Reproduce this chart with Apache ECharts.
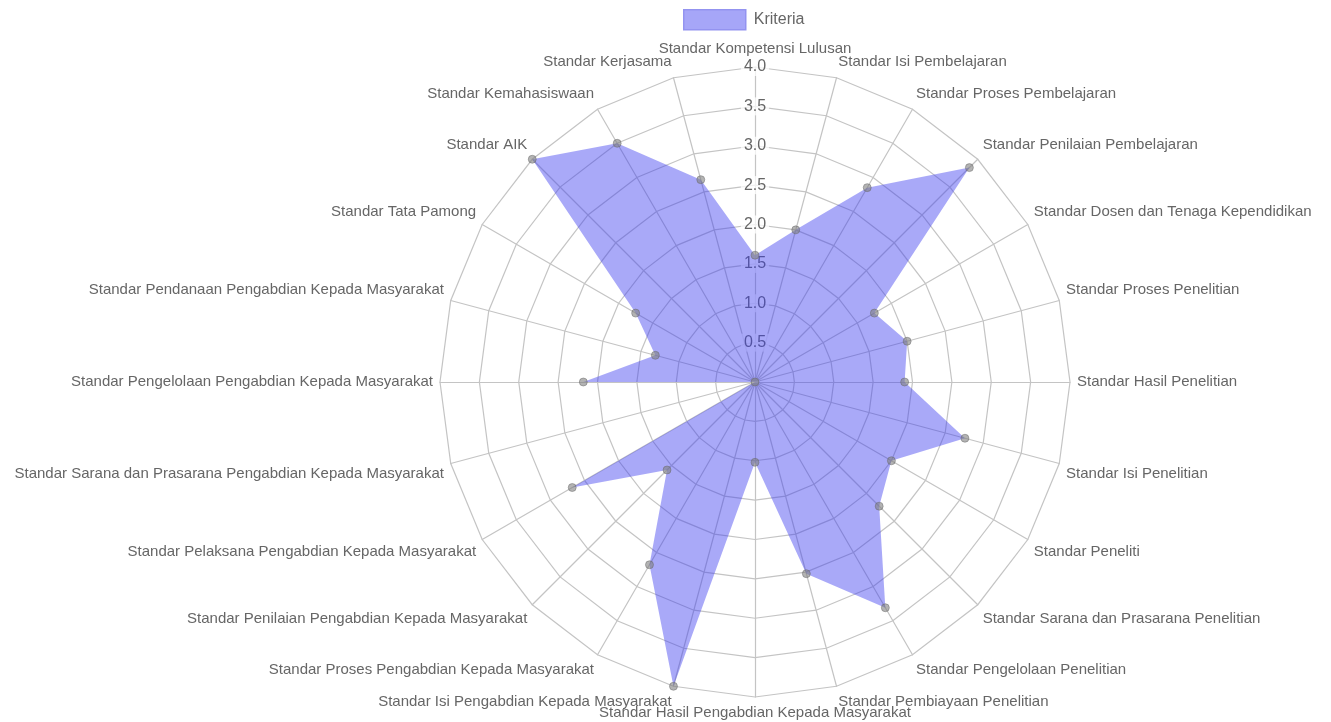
<!DOCTYPE html>
<html>
<head>
<meta charset="utf-8">
<script src="https://cdn.jsdelivr.net/npm/echarts@6/dist/echarts.min.js"></script>
<style>
html,body{margin:0;padding:0;background:#fff;}
#chart{width:1331px;height:722px;}
</style>
</head>
<body>
<div id="chart"></div>
<script>
// ---- data (clockwise from top) ----
const categories = [
  'Standar Kompetensi Lulusan',
  'Standar Isi Pembelajaran',
  'Standar Proses Pembelajaran',
  'Standar Penilaian Pembelajaran',
  'Standar Dosen dan Tenaga Kependidikan',
  'Standar Proses Penelitian',
  'Standar Hasil Penelitian',
  'Standar Isi Penelitian',
  'Standar Peneliti',
  'Standar Sarana dan Prasarana Penelitian',
  'Standar Pengelolaan Penelitian',
  'Standar Pembiayaan Penelitian',
  'Standar Hasil Pengabdian Kepada Masyarakat',
  'Standar Isi Pengabdian Kepada Masyarakat',
  'Standar Proses Pengabdian Kepada Masyarakat',
  'Standar Penilaian Pengabdian Kepada Masyarakat',
  'Standar Pelaksana Pengabdian Kepada Masyarakat',
  'Standar Sarana dan Prasarana Pengabdian Kepada Masyarakat',
  'Standar Pengelolaan Pengabdian Kepada Masyarakat',
  'Standar Pendanaan Pengabdian Kepada Masyarakat',
  'Standar Tata Pamong',
  'Standar AIK',
  'Standar Kemahasiswaan',
  'Standar Kerjasama'
];
const kriteriaValues = [
  1.61, 2.0, 2.85, 3.85, 1.75, 2.0, 1.9, 2.76, 2.0, 2.23, 3.31, 2.52,
  1.02, 4.0, 2.68, 1.58, 2.68, 0, 2.18, 1.31, 1.75, 4.0, 3.5, 2.66
];
const seriesName = 'Kriteria';
const axisMin = 0;
const axisMax = 4;
const axisSplits = 8;

// ---- build options ----
const n = categories.length;
// ECharts radar runs counter-clockwise; reorder so the picture reads clockwise
const order = [0];
for (let i = n - 1; i >= 1; i--) order.push(i);

const indicator = order.map(function (i) {
  const deg = i * 360 / n;
  const align = (deg === 0 || deg === 180) ? 'center' : (deg < 180 ? 'left' : 'right');
  const vAlign = (deg === 90 || deg === 270) ? 'middle' : ((deg < 90 || deg > 270) ? 'bottom' : 'top');
  const o = {
    name: categories[i],
    min: axisMin,
    max: axisMax,
    nameTextStyle: { align: align, verticalAlign: vAlign }
  };
  if (i === 0) {
    o.axisLabel = { show: true };
  }
  return o;
});
const radarValues = order.map(function (i) { return kriteriaValues[i]; });

const gridColor = '#c4c4c4';
const fillColor = 'rgba(60,60,240,0.44)';

const chart = echarts.init(document.getElementById('chart'), null, { renderer: 'canvas' });
chart.setOption({
  animation: false,
  backgroundColor: '#ffffff',
  legend: {
    left: 683,
    top: 9,
    padding: 0,
    itemWidth: 62,
    itemHeight: 20,
    icon: 'rect',
    textStyle: { fontFamily: 'Liberation Sans, Arial, sans-serif', fontSize: 16, color: '#666', padding: [0, 0, 0, 3] },
    data: [{
      name: seriesName,
      icon: 'rect',
      itemStyle: { color: '#a6a6f8', borderColor: '#9393f0', borderWidth: 1.5 }
    }]
  },
  radar: {
    center: [755, 382],
    radius: 315,
    startAngle: 90,
    shape: 'polygon',
    splitNumber: axisSplits,
    axisNameGap: 7,
    axisName: {
      color: '#666',
      fontFamily: 'Liberation Sans, Arial, sans-serif',
      fontSize: 15,
      lineHeight: 18
    },
    axisLine: { lineStyle: { color: gridColor, width: 1.2 } },
    splitLine: { lineStyle: { color: gridColor, width: 1.2 } },
    splitArea: { show: false },
    axisTick: { show: false },
    axisLabel: {
      show: false,
      margin: 0,
      align: 'center',
      verticalAlign: 'middle',
      color: '#666',
      fontFamily: 'Liberation Sans, Arial, sans-serif',
      fontSize: 16,
      backgroundColor: 'rgba(255,255,255,0.75)',
      padding: [1, 3],
      formatter: function (v) { return v === 0 ? '' : Number(v).toFixed(1); }
    },
    indicator: indicator
  },
  series: [{
    type: 'radar',
    name: seriesName,
    symbol: 'circle',
    symbolSize: 8,
    itemStyle: { color: 'rgba(128,128,128,0.6)', borderColor: 'rgba(100,100,100,0.45)', borderWidth: 1 },
    lineStyle: { width: 0, opacity: 0 },
    areaStyle: { color: fillColor, opacity: 1 },
    data: [{ name: seriesName, value: radarValues }]
  }]
});
</script>
</body>
</html>
